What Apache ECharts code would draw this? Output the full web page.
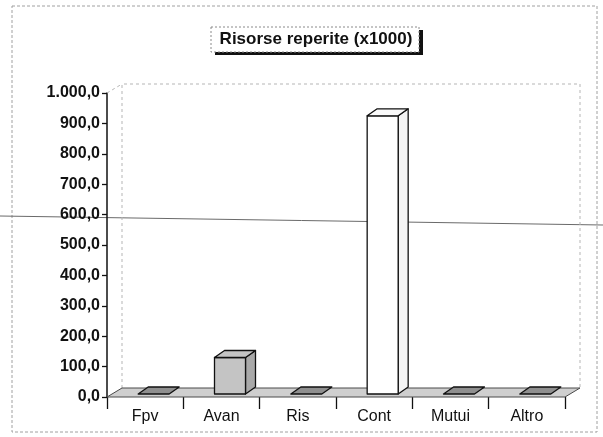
<!DOCTYPE html>
<html>
<head>
<meta charset="utf-8">
<script src="https://cdn.jsdelivr.net/npm/echarts@6/dist/echarts.min.js"></script>
<style>
  html, body { margin: 0; padding: 0; background: #fff; }
  #chart { width: 603px; height: 437px; }
</style>
</head>
<body>
<div id="chart"></div>
<script>
// dati (valori x1000)
const categories = ['Fpv', 'Avan', 'Ris', 'Cont', 'Mutui', 'Altro']
const values = [0, 120, 0, 915, 0, 0]
const yTicks = [0, 100, 200, 300, 400, 500, 600, 700, 800, 900, 1000]

const barFills = ['#8f8f8f', '#c4c4c4', '#8f8f8f', '#ffffff', '#8f8f8f', '#8f8f8f']

// formato italiano: 1.000,0
function fmt(v) {
  const parts = v.toFixed(1).split('.')
  parts[0] = parts[0].replace(/\B(?=(\d{3})+(?!\d))/g, '.')
  return parts.join(',')
}

const chart = echarts.init(document.getElementById('chart'))

// pavimento e parete di fondo (finto 3D)
function renderFloor(params, api) {
  const cs = params.coordSys
  const fx = 15, fy = -9
  const yb = cs.y + cs.height
  return {
    type: 'group',
    children: [
      {
        type: 'polyline',
        shape: { points: [[cs.x + fx, yb + fy], [cs.x + fx, cs.y + fy], [cs.x + cs.width + fx, cs.y + fy], [cs.x + cs.width + fx, yb + fy]] },
        style: { stroke: '#b5b5b5', lineWidth: 1, lineDash: [3, 3], fill: null }
      },
      {
        type: 'line',
        shape: { x1: cs.x, y1: cs.y, x2: cs.x + fx, y2: cs.y + fy },
        style: { stroke: '#b5b5b5', lineWidth: 1, lineDash: [3, 3] }
      },
      {
        type: 'polygon',
        shape: { points: [[cs.x, yb], [cs.x + cs.width, yb], [cs.x + cs.width + fx, yb + fy], [cs.x + fx, yb + fy]] },
        style: { fill: '#cfcfcf', stroke: '#4a4a4a', lineWidth: 1 }
      }
    ]
  }
}

function renderBar(params, api) {
  const i = api.value(0)
  const v = api.value(1)
  const base = api.coord([i, 0])
  const top = api.coord([i, v])
  const dx = 10, dy = -7
  const x0 = base[0] - 7
  const x1 = base[0] + 24
  const yb = base[1] - 3
  const yt = Math.min(top[1] - 3, yb)
  const fill = barFills[params.dataIndex]
  const st = { stroke: '#111', lineWidth: 1.3, lineJoin: 'round' }
  const children = []
  if (yb - yt > 0.5) {
    children.push({
      type: 'polygon',
      shape: { points: [[x1, yt], [x1 + dx, yt + dy], [x1 + dx, yb + dy], [x1, yb]] },
      style: Object.assign({ fill: fill === '#ffffff' ? '#f4f4f4' : '#a9a9a9' }, st)
    })
    children.push({
      type: 'rect',
      shape: { x: x0, y: yt, width: x1 - x0, height: yb - yt },
      style: Object.assign({ fill: fill }, st)
    })
  }
  children.push({
    type: 'polygon',
    shape: { points: [[x0, yt], [x0 + dx, yt + dy], [x1 + dx, yt + dy], [x1, yt]] },
    style: Object.assign({ fill: fill === '#ffffff' ? '#fafafa' : fill }, st)
  })
  return { type: 'group', children: children }
}

const option = {
  animation: false,
  backgroundColor: '#ffffff',
  title: {
    text: 'Risorse reperite (x1000)',
    left: 316,
    top: 31,
    textAlign: 'center',
    padding: 0,
    textStyle: {
      fontFamily: 'Liberation Sans, Arial, sans-serif',
      fontSize: 17,
      fontWeight: 'bold',
      color: '#111'
    },
    z: 10
  },
  grid: { left: 107, right: 38, top: 93, bottom: 40, containLabel: false },
  xAxis: {
    type: 'category',
    data: categories,
    axisLine: { show: false },
    axisTick: { show: true, length: 12, alignWithLabel: false, lineStyle: { color: '#111', width: 1.3 } },
    axisLabel: {
      margin: 12,
      fontFamily: 'Liberation Sans, Arial, sans-serif',
      fontSize: 16,
      color: '#111'
    }
  },
  yAxis: {
    type: 'value',
    min: yTicks[0],
    max: yTicks[yTicks.length - 1],
    interval: 100,
    axisLine: { show: true, lineStyle: { color: '#111', width: 1.5 } },
    axisTick: { show: true, length: 5, lineStyle: { color: '#111', width: 1.3 } },
    splitLine: { show: false },
    axisLabel: {
      margin: 7,
      formatter: fmt,
      fontFamily: 'Liberation Sans, Arial, sans-serif',
      fontSize: 16,
      fontWeight: 'bold',
      color: '#111'
    }
  },
  graphic: [
    {
      type: 'rect',
      shape: { x: 12, y: 6, width: 585, height: 426 },
      style: { fill: null, stroke: '#a0a0a0', lineWidth: 1, lineDash: [3, 2] },
      z: 0
    },
    {
      type: 'line',
      shape: { x1: 0, y1: 216, x2: 603, y2: 225 },
      style: { stroke: '#6a6a6a', lineWidth: 1 },
      z: 0
    },
    // riquadro del titolo con ombra
    {
      type: 'rect',
      shape: { x: 215, y: 30, width: 208, height: 25 },
      style: { fill: '#111' },
      z: 5
    },
    {
      type: 'rect',
      shape: { x: 211, y: 27, width: 208, height: 25 },
      style: { fill: '#ffffff', stroke: '#8a8a8a', lineWidth: 1, lineDash: [2, 2] },
      z: 6
    }
  ],
  series: [
    {
      type: 'custom',
      renderItem: function (params, api) {
        return params.dataIndex === 0 ? renderFloor(params, api) : null
      },
      data: [[0, 0]],
      z: 1,
      silent: true
    },
    {
      type: 'custom',
      renderItem: renderBar,
      encode: { x: 0, y: 1 },
      data: categories.map((c, i) => [i, values[i]]),
      z: 3
    }
  ]
}

chart.setOption(option)
</script>
</body>
</html>
